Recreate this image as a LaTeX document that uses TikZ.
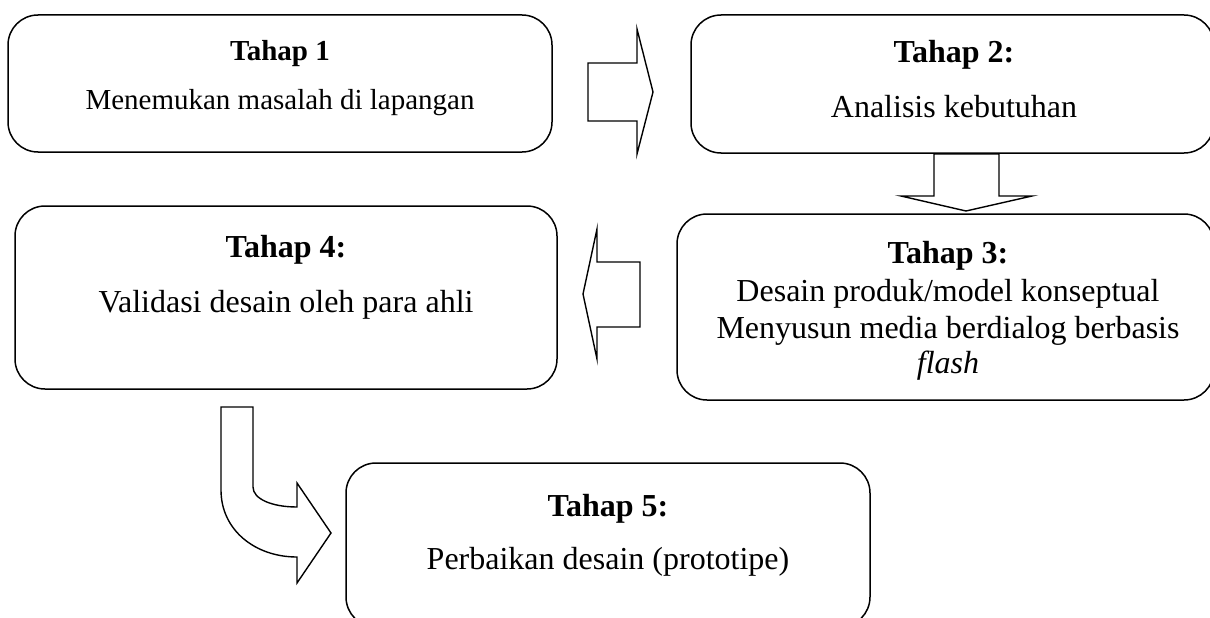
\documentclass[tikz,border=0pt]{standalone}
\usepackage{fontspec}
\setmainfont{Liberation Serif}
\begin{document}
\begin{tikzpicture}[x=1pt,y=-1pt,
  box/.style={draw, line width=1.5pt, rounded corners=30pt, inner sep=0pt},
  blk/.style={draw, line width=1.4pt, fill=white, line join=miter},
  hdA/.style={anchor=base, inner sep=0pt, font=\fontsize{29}{34}\selectfont\bfseries},
  txA/.style={anchor=base, inner sep=0pt, font=\fontsize{29}{34}\selectfont},
  hdB/.style={anchor=base, inner sep=0pt, font=\fontsize{32}{37}\selectfont\bfseries},
  txB/.style={anchor=base, inner sep=0pt, font=\fontsize{32}{37}\selectfont}]
\clip (0,0) rectangle (1210,618);
\fill[white] (0,0) rectangle (1210,618);
% boxes
\node[box, minimum width=544pt, minimum height=137pt] (b1) at (280,83.5) {};
\node[box, minimum width=523pt, minimum height=138pt] (b2) at (952.5,84) {};
\node[box, minimum width=537pt, minimum height=186pt] (b3) at (945.5,307) {};
\node[box, minimum width=542pt, minimum height=183pt] (b4) at (286,297.5) {};
\node[box, minimum width=524pt, minimum height=164pt] (b5) at (608,545) {};
% texts
\node[hdA] (t1h) at (280,61) {Tahap 1};
\node[txA] (t1b) at (280,110) {Menemukan masalah di lapangan};
\node[hdB] (t2h) at (954,63) {Tahap 2:};
\node[txB] (t2b) at (954,117) {Analisis kebutuhan};
\node[hdB] (t3h) at (948,263) {Tahap 3:};
\node[txB] (t3a) at (948,301) {Desain produk/model konseptual};
\node[txB] (t3b) at (948,338) {Menyusun media berdialog berbasis};
\node[txB] (t3c) at (948,373) {\itshape flash};
\node[hdB] (t4h) at (286,257) {Tahap 4:};
\node[txB] (t4b) at (286,312) {Validasi desain oleh para ahli};
\node[hdB] (t5h) at (608,516) {Tahap 5:};
\node[txB] (t5b) at (608,569) {Perbaikan desain (prototipe)};
% block arrows
\draw[blk] (588,63) -- (637,63) -- (637,29) -- (653,92) -- (637,154) -- (637,121) -- (588,121) -- cycle;
\draw[blk] (934,154) -- (999,154) -- (999,196) -- (1032,196) -- (966,211) -- (901,196) -- (934,196) -- cycle;
\draw[blk] (640,262) -- (640,327) -- (597,327) -- (597,359) -- (583,294) -- (597,229) -- (597,262) -- cycle;
\draw[blk] (221,407) -- (253,407) -- (253,487) .. controls (253,499) and (272,507) .. (297,507) -- (297,483) -- (331,533) -- (297,583) -- (297,557) .. controls (255,557) and (221,530) .. (221,490) -- cycle;
\end{tikzpicture}
\end{document}
